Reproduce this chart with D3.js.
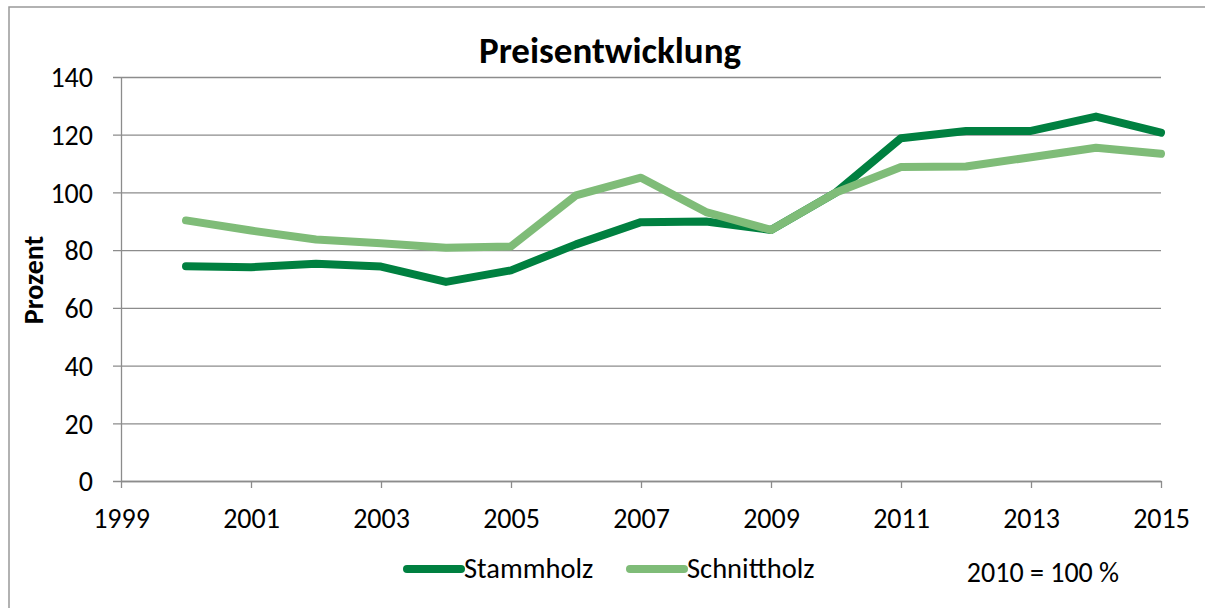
<!DOCTYPE html>
<html>
<head>
<meta charset="utf-8">
<script src="https://cdn.jsdelivr.net/npm/d3@7"></script>
<style>
  body { margin: 0; background: #fff; }
  svg { display: block; font-family: Carlito, Lato, "Open Sans", sans-serif; }
</style>
</head>
<body>
<div class="chart-container"></div>
<script>
// values, 2010 = 100
const years = [2000, 2001, 2002, 2003, 2004, 2005, 2006, 2007, 2008, 2009, 2010, 2011, 2012, 2013, 2014, 2015];
const stammholz = [74.4, 74.1, 75.3, 74.3, 69.0, 73.0, 82.0, 89.7, 89.9, 87.0, 100, 118.8, 121.3, 121.3, 126.3, 120.7];
const schnittholz = [90.3, 86.8, 83.7, 82.4, 80.8, 81.3, 99.0, 105.1, 93.2, 87.0, 100, 108.8, 109.0, 112.2, 115.5, 113.4];
const seriesNames = ["Stammholz", "Schnittholz"];
const xTicks = [1999, 2001, 2003, 2005, 2007, 2009, 2011, 2013, 2015];
const yTicks = [0, 20, 40, 60, 80, 100, 120, 140];

const w = 1205, h = 608;
const margin = {top: 77, right: 44, bottom: 127, left: 121};
const width = w - margin.left - margin.right;
const height = h - margin.top - margin.bottom;
const colors = {"Stammholz": "#008040", "Schnittholz": "#7fbc78"};
const gridColor = "#8c8c8c";
const fontFamily = 'Carlito, Lato, "Open Sans", sans-serif';

const svg = d3.select(".chart-container").append("svg")
  .attr("width", w)
  .attr("height", h);

// outer frame (only top + left visible in the cut-out)
svg.append("rect")
  .attr("x", 9).attr("y", 7)
  .attr("width", w + 20).attr("height", h + 20)
  .attr("fill", "none")
  .attr("stroke", "#999")
  .attr("stroke-width", 1.5);

const chart = svg.append("g")
  .attr("transform", "translate(" + margin.left + "," + margin.top + ")");

const x = d3.scaleLinear().domain([1999, 2015]).range([0, width]);
const y = d3.scaleLinear().domain([0, 140]).range([height, 0]);

/* gridlines + y axis */
const yAxis = chart.append("g")
  .call(d3.axisLeft(y).tickValues(yTicks).tickSize(8).tickSizeOuter(0).tickPadding(20))
  .attr("font-family", fontFamily);
yAxis.select(".domain").attr("stroke", gridColor).attr("stroke-width", 1.3);
yAxis.selectAll(".tick line").attr("stroke", gridColor).attr("stroke-width", 1.3)
  .attr("x1", width);
yAxis.selectAll(".tick text")
  .attr("fill", "#000")
  .style("font-size", "28px")
  .attr("dy", "0.35em");

/* x axis */
const xAxis = chart.append("g")
  .attr("transform", "translate(0," + height + ")")
  .call(d3.axisBottom(x).tickValues(xTicks).tickFormat(d3.format("d")).tickSize(7).tickSizeOuter(0).tickPadding(20))
  .attr("font-family", fontFamily);
xAxis.select(".domain").attr("stroke", gridColor).attr("stroke-width", 1.3);
xAxis.selectAll(".tick line").attr("stroke", gridColor).attr("stroke-width", 1.3);
xAxis.selectAll(".tick text")
  .attr("fill", "#000")
  .style("font-size", "28px");

/* lines */
const line = d3.line()
  .x((d, i) => x(years[i]))
  .y(d => y(d));

[["Stammholz", stammholz], ["Schnittholz", schnittholz]].forEach(([name, vals]) => {
  chart.append("path")
    .datum(vals)
    .attr("d", line)
    .attr("fill", "none")
    .attr("stroke", colors[name])
    .attr("stroke-width", 8)
    .attr("stroke-linejoin", "round")
    .attr("stroke-linecap", "round");
});

/* title + axis label */
svg.append("text")
  .attr("x", 610).attr("y", 63)
  .attr("text-anchor", "middle")
  .style("font-size", "37px")
  .style("font-weight", "bold")
  .text("Preisentwicklung");

svg.append("text")
  .attr("transform", "translate(43,280) rotate(-90)")
  .attr("text-anchor", "middle")
  .style("font-size", "28px")
  .style("font-weight", "bold")
  .text("Prozent");

/* legend */
const legendX = [407, 630];
seriesNames.forEach((name, i) => {
  const g = svg.append("g").attr("transform", "translate(" + legendX[i] + ",569)");
  g.append("line")
    .attr("x1", 0).attr("x2", 54)
    .attr("stroke", colors[name])
    .attr("stroke-width", 8)
    .attr("stroke-linecap", "round");
  g.append("text")
    .attr("x", 57).attr("y", 9)
    .style("font-size", "28.5px")
    .text(name);
});

svg.append("text")
  .attr("x", 1043).attr("y", 582)
  .attr("text-anchor", "middle")
  .style("font-size", "28px")
  .text("2010 = 100 %");
</script>
</body>
</html>
